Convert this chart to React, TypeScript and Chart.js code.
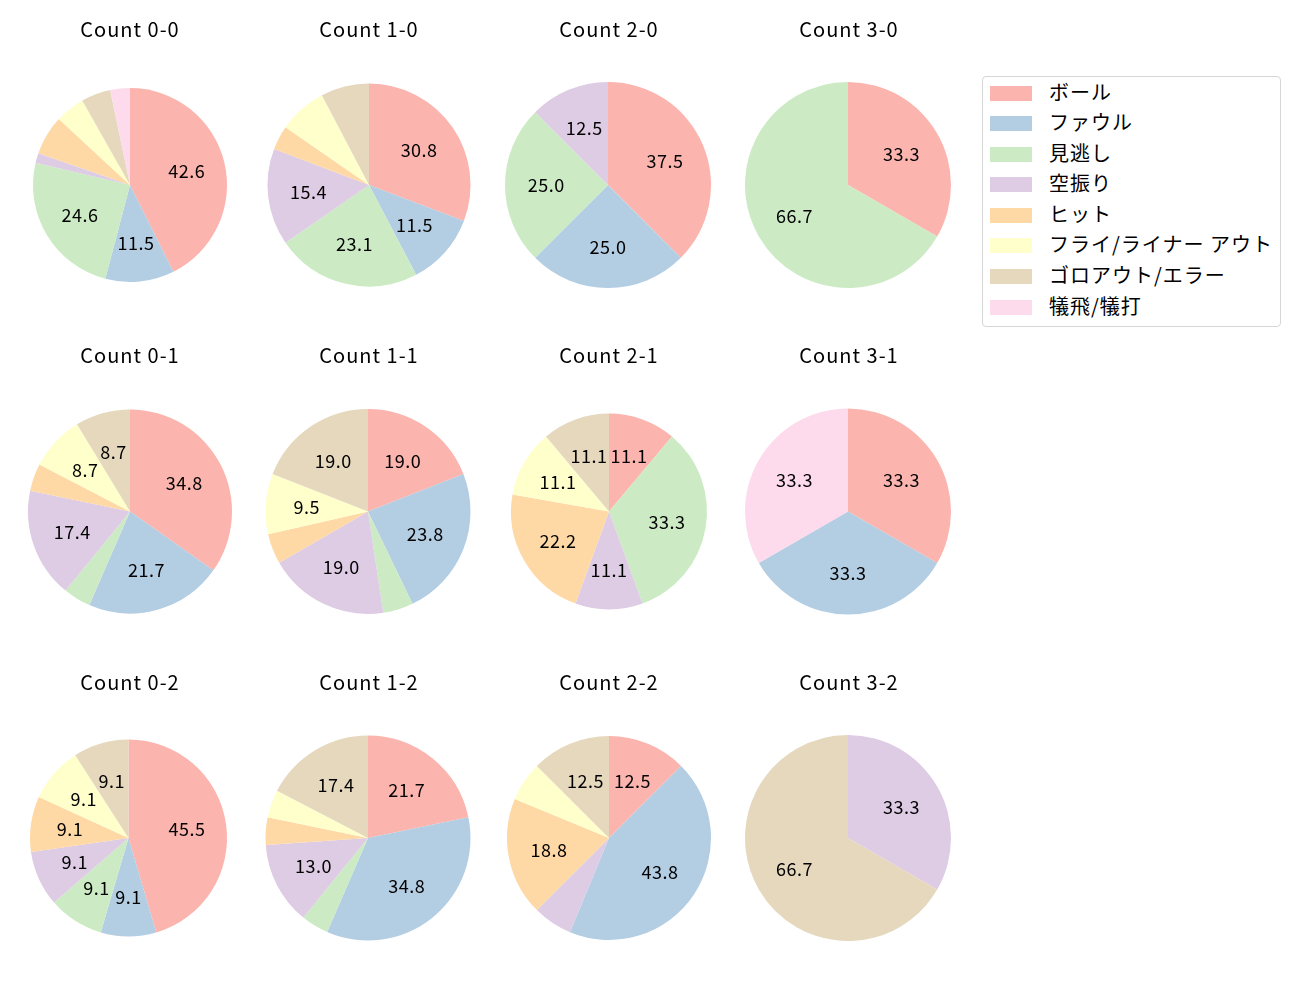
import React, { useEffect, useRef } from "react";
import { Chart, registerables } from "chart.js";

Chart.register(...registerables);

const FONT = "'Noto Sans CJK JP', 'Noto Sans', sans-serif";

const categories = [
  "ボール",
  "ファウル",
  "見逃し",
  "空振り",
  "ヒット",
  "フライ/ライナー アウト",
  "ゴロアウト/エラー",
  "犠飛/犠打",
];
const colors = ["#fbb4ae", "#b3cde3", "#ccebc5", "#decbe4", "#fed9a6", "#ffffcc", "#e5d8bd", "#fddaec"];

const count00 = [26, 7, 15, 1, 4, 3, 3, 2];
const count10 = [8, 3, 6, 4, 1, 2, 2, 0];
const count20 = [3, 2, 2, 1, 0, 0, 0, 0];
const count30 = [1, 0, 2, 0, 0, 0, 0, 0];
const count01 = [8, 5, 1, 4, 1, 2, 2, 0];
const count11 = [4, 5, 1, 4, 1, 2, 4, 0];
const count21 = [1, 0, 3, 1, 2, 1, 1, 0];
const count31 = [1, 1, 0, 0, 0, 0, 0, 1];
const count02 = [5, 1, 1, 1, 1, 1, 1, 0];
const count12 = [5, 8, 1, 3, 1, 1, 4, 0];
const count22 = [2, 7, 0, 1, 3, 1, 2, 0];
const count32 = [0, 0, 0, 1, 0, 0, 2, 0];

const panelTitles = [
  "Count 0-0", "Count 1-0", "Count 2-0", "Count 3-0",
  "Count 0-1", "Count 1-1", "Count 2-1", "Count 3-1",
  "Count 0-2", "Count 1-2", "Count 2-2", "Count 3-2",
];
const panelData = [
  count00, count10, count20, count30,
  count01, count11, count21, count31,
  count02, count12, count22, count32,
];

// layout (pixels)
const colCenters = [130, 369, 609, 849];
const rowCenters = [185, 511.5, 838];
const titleYs = [29, 355, 682];
const pieCx = [130, 369, 608, 848, 130, 368, 609, 848, 128.5, 368, 609, 848];
const pieR = [97, 101.5, 103, 103, 102, 102.5, 98, 103, 98.5, 102.5, 102, 103];

const CW = 240;
const CH = 330;
const CTOP = 175; // pie center offset inside canvas

function PiePanel({ idx }: { idx: number }) {
  const ref = useRef<HTMLCanvasElement | null>(null);
  const row = Math.floor(idx / 4);
  const col = idx % 4;
  const cx = pieCx[idx];
  const cy = rowCenters[row];
  const r = pieR[idx];
  const left = Math.round(colCenters[col]) - CW / 2;
  const top = Math.round(cy) - CTOP;
  const localCx = cx - left;
  const localCy = cy - top;
  const titleX = colCenters[col] - left;
  const titleY = titleYs[row] - top;

  useEffect(() => {
    if (!ref.current) return;
    const values = panelData[idx];
    const total = values.reduce((a, b) => a + b, 0);
    const labelPlugin = {
      id: "pctLabels" + idx,
      afterDatasetsDraw(chart: any) {
        const ctx = chart.ctx;
        const meta = chart.getDatasetMeta(0);
        ctx.save();
        ctx.font = `18px ${FONT}`;
        (ctx as any).letterSpacing = "0.5px";
        ctx.fillStyle = "#000";
        ctx.textAlign = "center";
        ctx.textBaseline = "middle";
        meta.data.forEach((arc: any, i: number) => {
          const v = values[i];
          const pct = (v / total) * 100;
          if (pct < 8) return;
          const p = arc.getProps(["x", "y", "startAngle", "endAngle", "outerRadius"], true);
          const mid = (p.startAngle + p.endAngle) / 2;
          const tx = p.x + Math.cos(mid) * p.outerRadius * 0.6;
          const ty = p.y + Math.sin(mid) * p.outerRadius * 0.6;
          ctx.fillText(pct.toFixed(1), tx, ty);
        });
        ctx.restore();
      },
    };
    const titlePlugin = {
      id: "panelTitle" + idx,
      afterDraw(chart: any) {
        const ctx = chart.ctx;
        ctx.save();
        ctx.font = `20px ${FONT}`;
        (ctx as any).letterSpacing = "1px";
        ctx.fillStyle = "#000";
        ctx.textAlign = "center";
        ctx.textBaseline = "middle";
        ctx.fillText(panelTitles[idx], titleX, titleY);
        ctx.restore();
      },
    };
    const chart = new Chart(ref.current, {
      type: "pie",
      data: {
        labels: categories,
        datasets: [
          {
            data: values,
            backgroundColor: colors,
            borderWidth: 0,
          },
        ],
      },
      options: {
        animation: false,
        responsive: false,
        maintainAspectRatio: false,
        events: [],
        layout: {
          padding: {
            left: localCx - r,
            right: CW - localCx - r,
            top: localCy - r,
            bottom: CH - localCy - r,
          },
        },
        plugins: {
          legend: { display: false },
          title: { display: false },
          tooltip: { enabled: false },
        },
      },
      plugins: [labelPlugin, titlePlugin],
    });
    return () => chart.destroy();
  }, [idx]);

  return (
    <canvas
      ref={ref}
      width={CW}
      height={CH}
      style={{ position: "absolute", left, top, width: CW, height: CH }}
    />
  );
}

const legendRowYs = [92, 122, 153, 183, 214, 244, 275, 306];

function Legend() {
  const boxLeft = 982;
  const boxTop = 76;
  return (
    <div
      style={{
        position: "absolute",
        left: boxLeft,
        top: boxTop,
        width: 299,
        height: 251,
        boxSizing: "border-box",
        border: "1px solid #d6d6d6",
        borderRadius: 4,
        background: "#fff",
        fontFamily: FONT,
      }}
    >
      {categories.map((c, i) => (
        <div
          key={c}
          style={{
            position: "absolute",
            left: 0,
            top: legendRowYs[i] - boxTop - 15,
            height: 30,
            width: 297,
          }}
        >
          <div
            style={{
              position: "absolute",
              left: 7,
              top: 8,
              width: 42,
              height: 15,
              background: colors[i],
            }}
          />
          <span
            style={{
              position: "absolute",
              left: 66,
              top: -1,
              lineHeight: "30px",
              fontSize: 20,
              letterSpacing: "1px",
              color: "#000",
              whiteSpace: "nowrap",
            }}
          >
            {c}
          </span>
        </div>
      ))}
    </div>
  );
}

export default function App() {
  return (
    <div style={{ position: "absolute", left: 0, top: 0, width: 1300, height: 1000, background: "#fff" }}>
      {panelData.map((_, i) => (
        <PiePanel key={i} idx={i} />
      ))}
      <Legend />
    </div>
  );
}
